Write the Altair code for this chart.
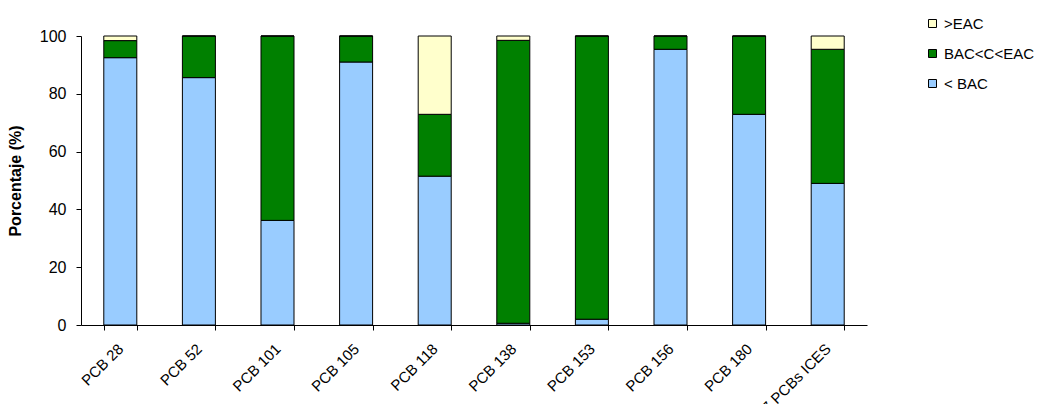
import altair as alt
import pandas as pd

categories = ["PCB 28", "PCB 52", "PCB 101", "PCB 105", "PCB 118",
              "PCB 138", "PCB 153", "PCB 156", "PCB 180", "7 PCBs ICES"]
below_bac = [92.5, 85.6, 36.2, 91.0, 51.5, 0.6, 2.0, 95.4, 72.9, 49.0]
bac_eac = [5.9, 14.4, 63.8, 9.0, 21.4, 97.9, 98.0, 4.6, 27.1, 46.4]
above_eac = [1.6, 0.0, 0.0, 0.0, 27.1, 1.5, 0.0, 0.0, 0.0, 4.6]

series = ["< BAC", "BAC<C<EAC", ">EAC"]
legend_order = [">EAC", "BAC<C<EAC", "< BAC"]
colors = ["#FFFFCC", "#008000", "#99CCFF"]

rows = []
for i, c in enumerate(categories):
    for k, (name, vals) in enumerate(zip(series, [below_bac, bac_eac, above_eac])):
        rows.append({"cat": c, "serie": name, "value": vals[i], "ord": k})
df = pd.DataFrame(rows)

font = "Liberation Sans"

chart = alt.Chart(df).mark_bar(stroke="black", strokeWidth=1).encode(
    x=alt.X("cat:N", sort=categories, title=None,
            scale=alt.Scale(paddingInner=0.58, paddingOuter=0.29),
            axis=alt.Axis(labelAngle=-45, labelAlign="right", labelBaseline="middle",
                          labelPadding=16, tickBand="extent", tickSize=5,
                          domainColor="black", tickColor="black",
                          labelFont=font, labelFontSize=15, labelColor="black")),
    y=alt.Y("value:Q", stack="zero", title="Porcentaje (%)",
            scale=alt.Scale(domain=[0, 100], nice=False),
            axis=alt.Axis(values=[0, 20, 40, 60, 80, 100], grid=False, tickSize=5,
                          domainColor="black", tickColor="black",
                          labelFont=font, labelFontSize=16, labelColor="black",
                          labelPadding=10,
                          titleFont=font, titleFontSize=16, titleFontWeight="bold",
                          titleColor="black", titlePadding=16)),
    color=alt.Color("serie:N",
                    scale=alt.Scale(domain=legend_order, range=colors),
                    legend=alt.Legend(title=None, orient="none", legendX=844, legendY=-20,
                                      symbolType="square", symbolSize=64,
                                      symbolStrokeColor="black", symbolStrokeWidth=1,
                                      labelFont=font, labelFontSize=15, labelColor="black",
                                      rowPadding=14, padding=0, labelOffset=4)),
    order=alt.Order("ord:Q", sort="ascending"),
).properties(
    width=786, height=289,
    background="white",
    autosize=alt.AutoSizeParams(type="none"),
    padding={"left": 73, "top": 28, "right": 173, "bottom": 79},
).configure_view(stroke=None, strokeWidth=0)

chart.save("out.html", embed_options={"renderer": "svg", "actions": False})
